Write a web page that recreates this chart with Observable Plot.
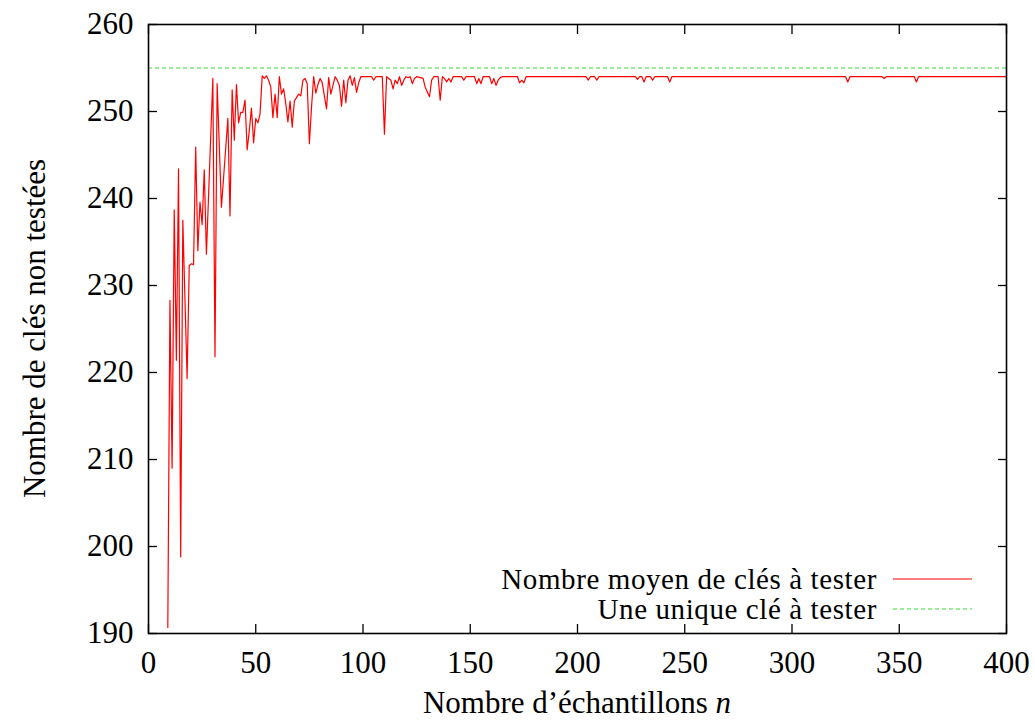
<!DOCTYPE html>
<html>
<head>
<meta charset="utf-8">
<script src="https://cdn.jsdelivr.net/npm/d3@7"></script>
<script src="https://cdn.jsdelivr.net/npm/@observablehq/plot@0.6"></script>
<style>
  body { margin: 0; background: #fff; }
  #chart svg { display: block; }
</style>
</head>
<body>
<div id="chart"></div>
<script>
// ---- data ----
const sampleN = [
  9,10,11,12,13,14,15,16,18,19,
  20,21,22,23,24,25,26,27,30,31,
  32,34,37,38,39,40,41,42,43,44,
  45,46,47,48,49,50,51,52,53,54,
  55,56,57,58,59,60,61,62,63,64,
  65,66,67,68,69,70,71,72,73,74,
  75,76,77,78,79,80,81,83,84,85,
  86,87,88,89,90,91,92,93,94,95,
  96,97,98,99,104,105,106,109,110,111,
  112,113,114,115,116,117,118,119,120,121,
  122,123,124,125,128,129,131,132,133,135,
  136,137,138,139,140,141,142,146,147,148,
  152,153,154,155,156,159,160,161,162,163,
  164,165,172,173,174,175,176,204,205,206,
  208,209,210,227,228,229,230,231,232,234,
  235,236,242,243,244,325,326,327,342,343,
  344,357,358,359,400
];
const meanKeysToTest = [
  190.7,228.3,209.0,238.7,221.4,243.4,198.8,237.5,219.3,232.3,
  232.5,232.4,245.9,234.0,239.6,237.0,243.3,233.6,253.8,221.8,
  253.2,239.0,249.2,238.0,252.5,246.7,253.1,248.7,249.9,249.9,
  251.3,245.6,247.8,250.4,246.4,249.2,248.7,249.7,254.1,253.8,
  254.1,253.6,252.8,249.3,252.0,249.3,254.0,252.0,252.6,250.9,
  248.8,251.2,248.2,251.2,251.6,252.0,251.8,253.6,253.8,253.2,
  246.3,250.5,254.0,252.1,253.1,253.8,253.3,250.3,253.9,252.0,
  253.0,254.0,253.6,253.0,250.6,253.6,251.0,253.6,254.1,253.0,
  253.9,252.2,253.3,254.0,254.0,253.6,254.0,254.0,247.4,254.0,
  253.8,253.6,252.6,253.6,253.2,254.0,253.0,253.6,254.0,253.9,
  254.0,253.2,253.8,254.0,253.8,252.8,251.7,253.6,254.0,254.0,
  251.3,254.0,253.8,253.4,253.8,253.4,254.0,254.0,253.6,254.0,
  254.0,253.2,253.8,253.2,254.0,254.0,253.2,253.8,253.0,253.6,
  253.9,254.0,254.0,253.3,253.6,253.3,254.0,254.0,253.6,254.0,
  254.0,253.6,254.0,254.0,253.7,254.0,254.0,253.4,254.0,254.0,
  253.6,254.0,254.0,253.4,254.0,254.0,253.4,254.0,254.0,253.8,
  254.0,254.0,253.4,254.0,254.0
];
const uniqueKeyLevel = [255];
const xTicks = [0, 50, 100, 150, 200, 250, 300, 350, 400];
const yTicks = [190, 200, 210, 220, 230, 240, 250, 260];
const seriesNames = ["Nombre moyen de clés à tester", "Une unique clé à tester"];
const seriesColors = ["#ff0000", "#33dd33"];
const xLabelText = "Nombre d’échantillons ";
const xLabelVar = "n";
const yLabelText = "Nombre de clés non testées";

// ---- build ----
const rows = sampleN.map((n, i) => ({ n, v: meanKeysToTest[i] }));
const FONT = "'Liberation Serif', 'Times New Roman', serif";
const W = 1035, H = 722;
const mL = 148, mR = 29, mT = 24, mB = 89;

const svg = Plot.plot({
  width: W, height: H,
  marginLeft: mL, marginRight: mR, marginTop: mT, marginBottom: mB,
  style: { fontFamily: FONT, fontSize: "31px", color: "black", background: "white", overflow: "visible" },
  x: { domain: [0, 400], label: null },
  y: { domain: [190, 260], label: null },
  marks: [
    Plot.ruleY(uniqueKeyLevel, { stroke: seriesColors[1], strokeWidth: 1, strokeDasharray: "4,3" }),
    Plot.lineY(rows, { x: "n", y: "v", stroke: seriesColors[0], strokeWidth: 1.2 }),
    Plot.axisX(xTicks, { anchor: "bottom", tickSize: -9, tickPadding: 26, label: null, strokeWidth: 1.3 }),
    Plot.axisX(xTicks, { anchor: "top", tickSize: -9, tickFormat: () => "", label: null, strokeWidth: 1.3 }),
    Plot.axisY(yTicks, { anchor: "left", tickSize: -9, tickPadding: 24, label: null, strokeWidth: 1.3 }),
    Plot.axisY(yTicks, { anchor: "right", tickSize: -9, tickFormat: () => "", label: null, strokeWidth: 1.3 }),
    Plot.frame({ stroke: "black", strokeWidth: 1.6 })
  ]
});

const s = d3.select(svg);
// y-axis label
s.append("text")
  .attr("transform", `translate(34, ${(mT + H - mB) / 2}) rotate(-90)`)
  .attr("text-anchor", "middle")
  .attr("dominant-baseline", "central")
  .attr("font-family", FONT).attr("font-size", 31)
  .attr("fill", "black")
  .text(yLabelText);
// x-axis label
const xl = s.append("text")
  .attr("x", (mL + W - mR) / 2)
  .attr("y", 713)
  .attr("text-anchor", "middle")
  .attr("font-family", FONT).attr("font-size", 31)
  .attr("fill", "black");
xl.append("tspan").text(xLabelText);
xl.append("tspan").attr("font-style", "italic").text(xLabelVar);

// legend (inside plot, bottom-right)
const legRows = [{ y: 579, dash: null }, { y: 609, dash: "4,3" }];
seriesNames.forEach((name, i) => {
  const ly = legRows[i].y;
  s.append("text")
    .attr("x", 877).attr("y", ly)
    .attr("text-anchor", "end")
    .attr("dominant-baseline", "central")
    .attr("font-family", FONT).attr("font-size", 29)
    .attr("letter-spacing", 0.6)
    .attr("fill", "black")
    .text(name);
  s.append("line")
    .attr("x1", 893).attr("x2", 972).attr("y1", ly).attr("y2", ly)
    .attr("stroke", seriesColors[i])
    .attr("stroke-width", i === 0 ? 1.2 : 1)
    .attr("stroke-dasharray", legRows[i].dash);
});

document.getElementById("chart").appendChild(svg);
</script>
</body>
</html>
